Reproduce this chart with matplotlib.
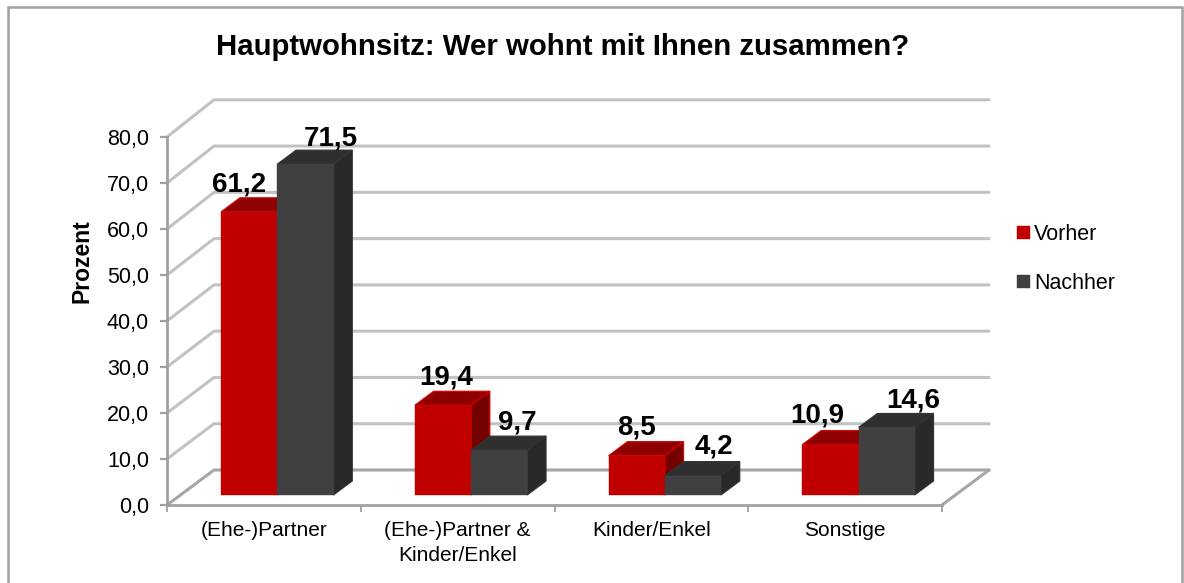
import matplotlib
matplotlib.use("Agg")
import matplotlib.pyplot as plt
from matplotlib.patches import Polygon, Rectangle
from matplotlib.lines import Line2D
from matplotlib.transforms import Affine2D

categories = ["(Ehe-)Partner", "(Ehe-)Partner &\nKinder/Enkel", "Kinder/Enkel", "Sonstige"]
vorher = [61.2, 19.4, 8.5, 10.9]
nachher = [71.5, 9.7, 4.2, 14.6]
series_names = ["Vorher", "Nachher"]
y_ticks = [0, 10, 20, 30, 40, 50, 60, 70, 80]
title = "Hauptwohnsitz: Wer wohnt mit Ihnen zusammen?"
y_label = "Prozent"

W, H = 1184, 583
plt.rcParams["font.family"] = ["Liberation Sans", "DejaVu Sans"]
fig = plt.figure(figsize=(W / 100, H / 100), dpi=100, facecolor="white")
# chart frame: its bottom edge lies below the cropped picture
fig.add_artist(Rectangle((7.5 / W, -10 / H), 1174 / W, (10 + 583 - 6.5) / H, transform=fig.transFigure,
                         fill=False, ec="#a0a0a0", lw=1.8))

ax = fig.add_axes([167 / W, 1 - 505 / H, 775 / W, 368 / H])
ax.set_xlim(0, 4)
ax.set_ylim(0, 80)
ax.patch.set_alpha(0)

DX, DY = 47, 35          # pixel offset of the back wall
BAR_W = 0.29
D_FRONT, D_BACK = 0.286, 0.686
SCALE = 1.006


def depth_tf(d):
    s = SCALE if d > 0 else 1
    return Affine2D().scale(1, s) + ax.transData + Affine2D().translate(DX * d, DY * d)


def proj(x, v, d):
    return tuple(depth_tf(d).transform((x, v)))


# wall and floor
n = len(categories)
for t in y_ticks:
    col = "#c2c2c2" if t else "#a6a6a6"
    p0, p1, p2 = proj(0, t, 0), proj(0, t, 1), proj(n, t, 1)
    fig.add_artist(Line2D([p0[0], p1[0], p2[0]], [p0[1], p1[1], p2[1]], transform=None, color=col,
                          lw=2.2, solid_capstyle="round", solid_joinstyle="round", zorder=1))
p0, p1 = proj(n, 0, 0), proj(n, 0, 1)
fig.add_artist(Line2D([p0[0], p1[0]], [p0[1], p1[1]], transform=None, color="#a6a6a6", lw=2.2,
                      solid_capstyle="round", zorder=1))

ax.set_zorder(3)
front = depth_tf(D_FRONT)
colors = {0: ("#C00000", "#8E0000", "#740000", "#d80000"), 1: ("#404040", "#2F2F2F", "#292929", "#333333")}
label_dx = [[-10, 25], [3, 18], [0, 21], [-13, 27]]
label_dy = [27, 26, 28, 28, 28, 29, 29, 27]
k = 0
for i in range(n):
    for s, vals in enumerate((vorher, nachher)):
        v = vals[i]
        x0 = i + 0.5 + (s - 1) * BAR_W
        x1 = x0 + BAR_W
        cf, ct, cs, ce = colors[s]
        z = 4 + i + 0.1 * s
        side = [proj(x1, 0, D_FRONT), proj(x1, 0, D_BACK), proj(x1, v, D_BACK), proj(x1, v, D_FRONT)]
        top = [proj(x0, v, D_FRONT), proj(x1, v, D_FRONT), proj(x1, v, D_BACK), proj(x0, v, D_BACK)]
        ax.add_patch(Polygon(side, closed=True, transform=None, fc=cs, ec=ce, lw=0.8, zorder=z, clip_on=False))
        ax.add_patch(Polygon(top, closed=True, transform=None, fc=ct, ec=ce, lw=0.8, zorder=z, clip_on=False))
        ax.bar(x0, v, BAR_W, align="edge", color=cf, edgecolor=cf, linewidth=0.3,
               transform=front, zorder=z + 0.01, clip_on=False,
               label=series_names[s] if i == 0 else None)
        px = proj(x0 + BAR_W / 2, v, D_FRONT)
        ax.annotate(f"{v:.1f}".replace(".", ","), xy=px, xycoords="figure pixels",
                    xytext=(label_dx[i][s], label_dy[k]), textcoords="offset pixels",
                    ha="center", va="center", fontsize=20, fontweight="bold", color="black",
                    zorder=30, annotation_clip=False)
        k += 1

ax.set_xlim(0, 4)
ax.set_ylim(0, 80)

# axes
for sp in ("top", "right"):
    ax.spines[sp].set_visible(False)
for sp in ("left", "bottom"):
    ax.spines[sp].set_color("#a0a0a0")
    ax.spines[sp].set_linewidth(2)
    ax.spines[sp].set_zorder(2)
ax.set_yticks(y_ticks)
ax.set_yticklabels([f"{t:.1f}".replace(".", ",") for t in y_ticks], fontsize=15.5, color="black")
ax.set_xticks(range(n + 1))
ax.set_xticklabels([])
ax.set_xticks([i + 0.5 for i in range(n)], minor=True)
ax.set_xticklabels(categories, minor=True, fontsize=15, color="black", linespacing=1.4)
ax.tick_params(axis="x", which="minor", length=0, pad=11.5)
ax.tick_params(axis="x", which="major", length=5, width=1.3, color="#a0a0a0")
ax.tick_params(axis="y", length=5, width=1.6, color="#a0a0a0", pad=8)
ax.set_ylabel(y_label, fontsize=16.5, fontweight="bold")
ax.yaxis.set_label_coords((94 - 167) / 775, (505 - 261) / 368)

fig.text(562.5 / W, 1 - 47 / H, title, ha="center", va="center", fontsize=21.2, fontweight="bold")

ax.legend(loc="upper left", bbox_to_anchor=(1017 / W, 1 - 224 / H), bbox_transform=fig.transFigure,
          frameon=False, fontsize=15.5, handlelength=0.6, handleheight=0.6, handletextpad=0.2,
          labelspacing=1.3, borderpad=0, borderaxespad=0)

fig.savefig("out.png", dpi=100, facecolor="white")
